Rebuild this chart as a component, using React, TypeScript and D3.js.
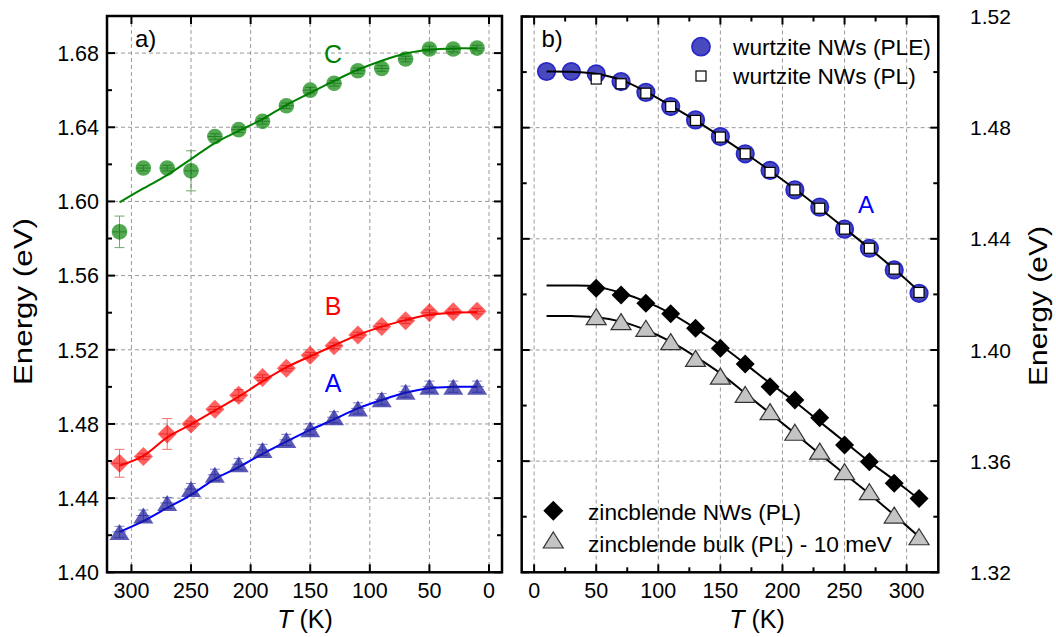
import React from 'react';
import * as d3 from 'd3';

// ---------- data ----------
const T_LEFT = [310, 290, 270, 250, 230, 210, 190, 170, 150, 130, 110, 90, 70, 50, 30, 10];
const C_VALUES = [1.5836, 1.618, 1.618, 1.6165, 1.635, 1.6387, 1.6432, 1.6516, 1.66, 1.6637, 1.6705, 1.6717, 1.6768, 1.6822, 1.6822, 1.6827];
const C_ERR = [0.0085, 0.0015, 0.0015, 0.0108, 0.0015, 0.0015, 0.0015, 0.0015, 0.0015, 0.0015, 0.0015, 0.0015, 0.0015, 0.0015, 0.0015, 0.0015];
const C_FIT = [1.5995, 1.607, 1.6142, 1.6228, 1.6315, 1.638, 1.6444, 1.652, 1.6585, 1.665, 1.671, 1.6759, 1.6798, 1.6818, 1.6825, 1.6825];
const B_VALUES = [1.4588, 1.4624, 1.4746, 1.48, 1.4879, 1.4955, 1.505, 1.51, 1.5171, 1.5222, 1.528, 1.5325, 1.5357, 1.54, 1.5405, 1.5408];
const B_ERR = [0.0075, 0.0015, 0.0083, 0.0015, 0.0015, 0.003, 0.0015, 0.0015, 0.0015, 0.0015, 0.0015, 0.0015, 0.0015, 0.0015, 0.0015, 0.0015];
const B_FIT = [1.4575, 1.4628, 1.4728, 1.4798, 1.4872, 1.4947, 1.503, 1.5105, 1.5165, 1.5223, 1.528, 1.5325, 1.536, 1.5389, 1.54, 1.5402];
const A_VALUES = [1.4218, 1.4306, 1.4374, 1.4449, 1.4526, 1.4583, 1.466, 1.4714, 1.4771, 1.4836, 1.4884, 1.4933, 1.4974, 1.5001, 1.5001, 1.5001];
const A_ERR = [0.003, 0.003, 0.003, 0.003, 0.003, 0.003, 0.003, 0.003, 0.003, 0.003, 0.003, 0.003, 0.003, 0.003, 0.003, 0.003];
const A_FIT = [1.4218, 1.4276, 1.4347, 1.4418, 1.4503, 1.4567, 1.4639, 1.4705, 1.4768, 1.4825, 1.4884, 1.4929, 1.4968, 1.4993, 1.5, 1.5];

const T_RIGHT = [10, 30, 50, 70, 90, 110, 130, 150, 170, 190, 210, 230, 250, 270, 290, 310];
const T_PL = [50, 70, 90, 110, 130, 150, 170, 190, 210, 230, 250, 270, 290, 310];
const WZ_PLE = [1.5002, 1.5002, 1.4994, 1.4966, 1.4927, 1.4876, 1.4828, 1.4768, 1.4706, 1.4646, 1.4576, 1.4514, 1.4435, 1.4366, 1.4288, 1.4204];
const WZ_PL = [1.4975, 1.4958, 1.4924, 1.4876, 1.4826, 1.4766, 1.4706, 1.4639, 1.4576, 1.451, 1.4435, 1.4366, 1.4291, 1.4207];
const WZ_FIT = [1.5002, 1.5001, 1.4994, 1.4972, 1.493, 1.4879, 1.4826, 1.4768, 1.4708, 1.4645, 1.4579, 1.451, 1.4438, 1.4366, 1.4291, 1.4211];
const ZB_NW = [1.4222, 1.4198, 1.4168, 1.413, 1.4078, 1.4006, 1.395, 1.3868, 1.382, 1.3756, 1.3658, 1.3598, 1.352, 1.3466];
const ZB_BULK = [1.412, 1.4102, 1.4078, 1.403, 1.397, 1.3906, 1.384, 1.3778, 1.3704, 1.3636, 1.3562, 1.349, 1.3406, 1.3328];
const ZB_NW_FIT = [1.4232, 1.4232, 1.4228, 1.4206, 1.4174, 1.4132, 1.4078, 1.4018, 1.395, 1.388, 1.3814, 1.3742, 1.367, 1.3598, 1.3532, 1.3463];
const ZB_BULK_FIT = [1.4122, 1.4122, 1.4118, 1.4102, 1.4072, 1.403, 1.3976, 1.3916, 1.3844, 1.3772, 1.37, 1.3626, 1.3554, 1.3482, 1.3406, 1.3328];

const X_TICKS = [0, 50, 100, 150, 200, 250, 300];
const X_MINOR_RIGHT = [25, 75, 125, 175, 225, 275, 325];
const Y_TICKS_LEFT = [1.4, 1.44, 1.48, 1.52, 1.56, 1.6, 1.64, 1.68];
const Y_MINOR_LEFT = [1.42, 1.46, 1.5, 1.54, 1.58, 1.62, 1.66, 1.7];
const Y_TICKS_RIGHT = [1.32, 1.36, 1.4, 1.44, 1.48, 1.52];
const Y_MINOR_RIGHT = [1.34, 1.38, 1.42, 1.46, 1.5];

const FONT = "'Liberation Sans', Arial, Helvetica, sans-serif";

// ---------- scales ----------
const xL = d3.scaleLinear().domain([320.5, -10.9]).range([107, 502]);
const yL = d3.scaleLinear().domain([1.4, 1.7]).range([572.3, 16]);
const xR = d3.scaleLinear().domain([-10, 325.5]).range([521.7, 938.3]);
const yR = d3.scaleLinear().domain([1.32, 1.52]).range([572.3, 16.5]);

const diamond = (cx: number, cy: number, h: number) =>
  `M${cx},${cy - h}L${cx + h},${cy}L${cx},${cy + h}L${cx - h},${cy}Z`;
const triangle = (cx: number, cy: number, w: number, h: number) =>
  `M${cx},${cy - h / 2}L${cx + w / 2},${cy + h / 2}L${cx - w / 2},${cy + h / 2}Z`;

function fitPath(xs: number[], ys: number[], xs_: any, ys_: any) {
  const pts = xs.map((t, i) => [xs_(t), ys_(ys[i])] as [number, number]).sort((a, b) => a[0] - b[0]);
  return d3.line().curve(d3.curveCatmullRom.alpha(0.5))(pts) || '';
}

function Frame({ x, y, ticksY, minorX, minorY, gridY, labelsLeft, labelsRight }: any) {
  const [x0, x1] = x.range();
  const [y0, y1] = [y.range()[1], y.range()[0]];
  const maj = 8, mnr = 5;
  return (
    <g>
      {X_TICKS.map((t) => (
        <line key={'gx' + t} x1={x(t)} x2={x(t)} y1={y0} y2={y1} stroke="#9a9a9a" strokeWidth={1} strokeDasharray="4,3" />
      ))}
      {gridY.map((v: number) => (
        <line key={'gy' + v} x1={x0} x2={x1} y1={y(v)} y2={y(v)} stroke="#9a9a9a" strokeWidth={1} strokeDasharray="4,3" />
      ))}
      {X_TICKS.map((t) => (
        <g key={'tx' + t}>
          <line x1={x(t)} x2={x(t)} y1={y1} y2={y1 - maj} stroke="#000" strokeWidth={2} />
          <line x1={x(t)} x2={x(t)} y1={y0} y2={y0 + maj} stroke="#000" strokeWidth={2} />
          <text x={x(t)} y={598} textAnchor="middle" fontSize={21.5} fontFamily={FONT}>{t}</text>
        </g>
      ))}
      {minorX.filter((t: number) => x(t) > x0 + 1 && x(t) < x1 - 1).map((t: number) => (
        <g key={'mx' + t}>
          <line x1={x(t)} x2={x(t)} y1={y1} y2={y1 - mnr} stroke="#000" strokeWidth={2} />
          <line x1={x(t)} x2={x(t)} y1={y0} y2={y0 + mnr} stroke="#000" strokeWidth={2} />
        </g>
      ))}
      {ticksY.map((v: number) => (
        <g key={'ty' + v}>
          <line x1={x0} x2={x0 + maj} y1={y(v)} y2={y(v)} stroke="#000" strokeWidth={2} />
          <line x1={x1} x2={x1 - maj} y1={y(v)} y2={y(v)} stroke="#000" strokeWidth={2} />
          {labelsLeft && (
            <text x={99} y={y(v)} dy="0.36em" textAnchor="end" fontSize={21.5} fontFamily={FONT}>{v.toFixed(2)}</text>
          )}
          {labelsRight && (
            <text x={970} y={y(v)} dy="0.36em" textAnchor="start" fontSize={21} fontFamily={FONT}>{v.toFixed(2)}</text>
          )}
        </g>
      ))}
      {minorY.map((v: number) => (
        <g key={'my' + v}>
          <line x1={x0} x2={x0 + mnr} y1={y(v)} y2={y(v)} stroke="#000" strokeWidth={2} />
          <line x1={x1} x2={x1 - mnr} y1={y(v)} y2={y(v)} stroke="#000" strokeWidth={2} />
        </g>
      ))}
      <rect x={x0} y={y0} width={x1 - x0} height={y1 - y0} fill="none" stroke="#000" strokeWidth={2.5} />
    </g>
  );
}

function ErrMarks({ ts, vals, errs, color }: any) {
  return (
    <g stroke={color} strokeWidth={1} opacity={0.55}>
      {ts.map((t: number, i: number) => {
        const cx = xL(t);
        const ya = yL(vals[i] + errs[i]);
        const yb = yL(vals[i] - errs[i]);
        return (
          <g key={i}>
            <line x1={cx} x2={cx} y1={ya} y2={yb} />
            <line x1={cx - 5} x2={cx + 5} y1={ya} y2={ya} />
            <line x1={cx - 5} x2={cx + 5} y1={yb} y2={yb} />
            <line x1={cx - 7} x2={cx + 7} y1={yL(vals[i])} y2={yL(vals[i])} />
          </g>
        );
      })}
    </g>
  );
}

export default function App() {
  return (
    <svg width={1056} height={637} style={{ position: 'absolute', left: 0, top: 0, background: '#fff' }} fontFamily={FONT}>
      <rect x={0} y={0} width={1056} height={637} fill="#fff" />
      {/* ---------- left panel ---------- */}
      <Frame x={xL} y={yL} ticksY={Y_TICKS_LEFT} minorX={[]} minorY={Y_MINOR_LEFT} gridY={[1.44, 1.48, 1.52, 1.56, 1.6, 1.64, 1.68]} labelsLeft />
      <path d={fitPath(T_LEFT, C_FIT, xL, yL)} fill="none" stroke="#008000" strokeWidth={2} />
      <path d={fitPath(T_LEFT, B_FIT, xL, yL)} fill="none" stroke="#ff0000" strokeWidth={2} />
      <path d={fitPath(T_LEFT, A_FIT, xL, yL)} fill="none" stroke="#0000ff" strokeWidth={2} />
      <g>
        {T_LEFT.map((t, i) => (
          <circle key={i} cx={xL(t)} cy={yL(C_VALUES[i])} r={7.8} fill="#008000" fillOpacity={0.68} />
        ))}
      </g>
      <ErrMarks ts={T_LEFT} vals={C_VALUES} errs={C_ERR} color="#006400" />
      <g>
        {T_LEFT.map((t, i) => (
          <path key={i} d={diamond(xL(t), yL(B_VALUES[i]), 9.5)} fill="#ff0000" fillOpacity={0.62} />
        ))}
      </g>
      <ErrMarks ts={T_LEFT} vals={B_VALUES} errs={B_ERR} color="#e00000" />
      <g>
        {T_LEFT.map((t, i) => (
          <path key={i} d={triangle(xL(t), yL(A_VALUES[i]), 20, 16)} fill="#1a1a9a" fillOpacity={0.72} />
        ))}
      </g>
      <ErrMarks ts={T_LEFT} vals={A_VALUES} errs={A_ERR} color="#1a1a9a" />
      <text x={135} y={47} fontSize={24} fontFamily={FONT}>a)</text>
      <text x={333} y={63} fontSize={25} fill="#008000" textAnchor="middle" fontFamily={FONT}>C</text>
      <text x={333} y={315} fontSize={25} fill="#ff0000" textAnchor="middle" fontFamily={FONT}>B</text>
      <text x={333} y={392} fontSize={25} fill="#0000ff" textAnchor="middle" fontFamily={FONT}>A</text>

      {/* ---------- right panel ---------- */}
      <Frame x={xR} y={yR} ticksY={Y_TICKS_RIGHT} minorX={X_MINOR_RIGHT} minorY={Y_MINOR_RIGHT} gridY={[1.36, 1.4, 1.44, 1.48]} labelsRight />
      {T_RIGHT.map((t, i) => (
        <circle key={'ple' + i} cx={xR(t)} cy={yR(WZ_PLE[i])} r={8.7} fill="#4a4abf" stroke="#2828c8" strokeWidth={1.8} />
      ))}
      <path d={fitPath(T_RIGHT, WZ_FIT, xR, yR)} fill="none" stroke="#000" strokeWidth={2} />
      {T_PL.map((t, i) => (
        <rect key={'pl' + i} x={xR(t) - 5} y={yR(WZ_PL[i]) - 5} width={10} height={10} fill="#fff" stroke="#000" strokeWidth={1.2} />
      ))}
      <path d={fitPath(T_RIGHT, ZB_NW_FIT, xR, yR)} fill="none" stroke="#000" strokeWidth={2} />
      <path d={fitPath(T_RIGHT, ZB_BULK_FIT, xR, yR)} fill="none" stroke="#000" strokeWidth={2} />
      {T_PL.map((t, i) => (
        <path key={'zb' + i} d={diamond(xR(t), yR(ZB_NW[i]), 9.5)} fill="#000" />
      ))}
      {T_PL.map((t, i) => (
        <path key={'bk' + i} d={triangle(xR(t), yR(ZB_BULK[i]), 20, 16)} fill="#c4c4c4" stroke="#333" strokeWidth={1.2} />
      ))}
      <text x={541.5} y={47} fontSize={24} fontFamily={FONT}>b)</text>
      <text x={866} y={213} fontSize={24} fill="#0000ff" textAnchor="middle" fontFamily={FONT}>A</text>

      {/* legends */}
      <circle cx={701} cy={46.7} r={9} fill="#4a4abf" stroke="#2828c8" strokeWidth={1.8} />
      <text x={733} y={55} fontSize={22.7} fontFamily={FONT}>wurtzite NWs (PLE)</text>
      <rect x={696} y={71} width={10} height={10} fill="#fff" stroke="#000" strokeWidth={1.2} />
      <text x={733} y={84} fontSize={22.7} fontFamily={FONT}>wurtzite NWs (PL)</text>
      <path d={diamond(553.3, 510.7, 10)} fill="#000" />
      <text x={588} y={519.5} fontSize={22.7} fontFamily={FONT}>zincblende NWs (PL)</text>
      <path d={triangle(553.3, 540, 20, 16)} fill="#c4c4c4" stroke="#333" strokeWidth={1.2} />
      <text x={588} y={551.5} fontSize={22.7} fontFamily={FONT}>zincblende bulk (PL) - 10 meV</text>

      {/* axis titles */}
      <text transform="translate(32,301.5) rotate(-90)" textAnchor="middle" fontSize={26} fontFamily={FONT} textLength={167} lengthAdjust="spacingAndGlyphs">Energy (eV)</text>
      <text transform="translate(1046.5,306) rotate(-90)" textAnchor="middle" fontSize={26} fontFamily={FONT} textLength={160} lengthAdjust="spacingAndGlyphs">Energy (eV)</text>
      <text x={305} y={628} textAnchor="middle" fontSize={25} fontFamily={FONT}>
        <tspan fontStyle="italic">T</tspan> (K)
      </text>
      <text x={757} y={628} textAnchor="middle" fontSize={25} fontFamily={FONT}>
        <tspan fontStyle="italic">T</tspan> (K)
      </text>
    </svg>
  );
}
